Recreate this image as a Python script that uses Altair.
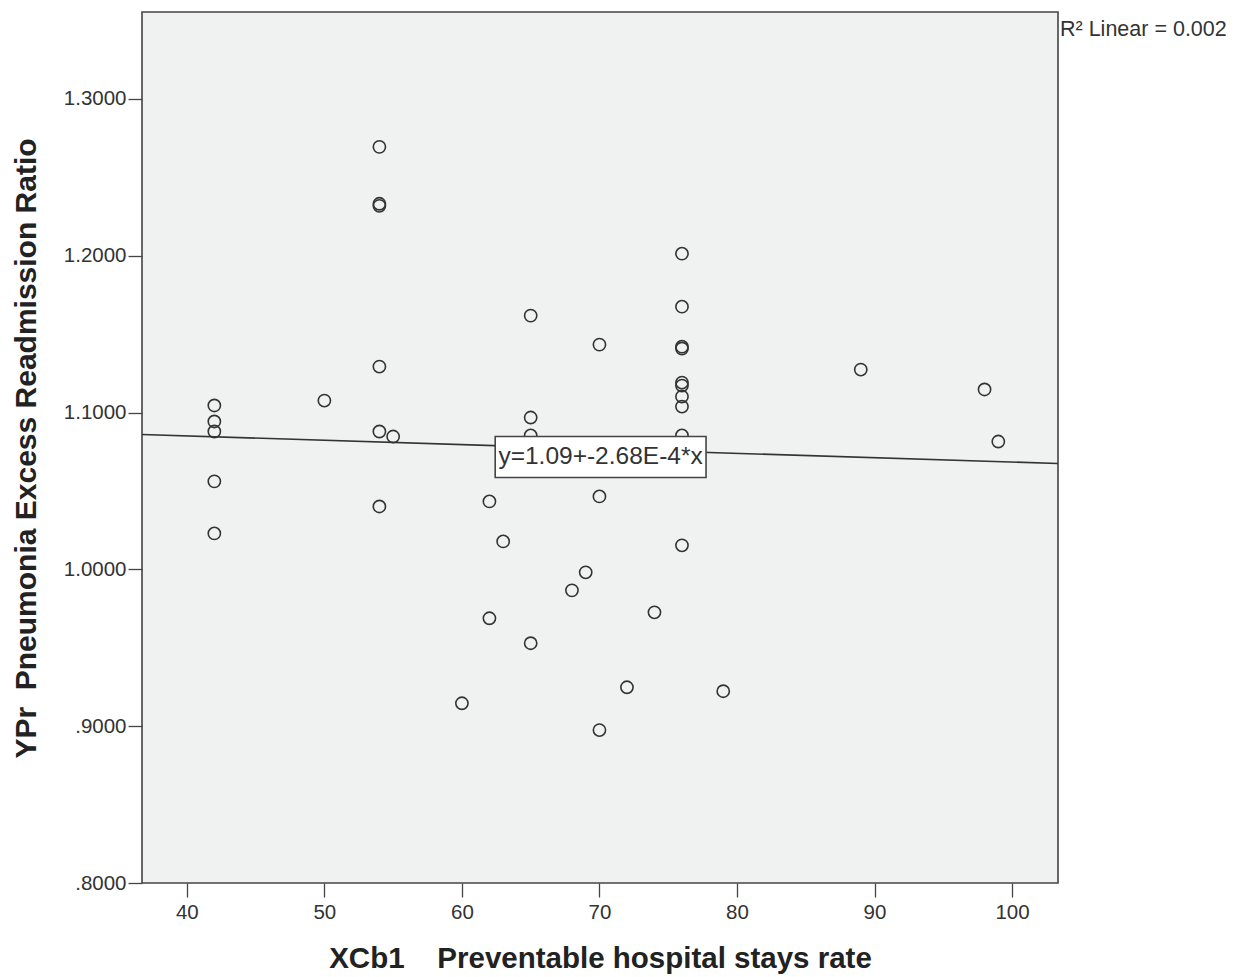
import altair as alt
import pandas as pd

# ---- data ----
x_vals = [42, 42, 42, 42, 42,
          50,
          54, 54, 54, 54, 54, 54,
          55,
          60,
          62, 62,
          63,
          65, 65, 65, 65,
          68,
          69,
          70, 70, 70,
          72,
          74,
          76, 76, 76, 76, 76, 76, 76, 76, 76, 76,
          79,
          89,
          98,
          99]
y_vals = [1.1045, 1.0943, 1.0879, 1.0561, 1.0229,
          1.1076,
          1.2694, 1.2331, 1.2318, 1.1293, 1.0879, 1.0401,
          1.0847,
          0.9146,
          1.0433, 0.9688,
          1.0178,
          1.1618, 1.0968, 1.0854, 0.9529,
          0.9866,
          0.9981,
          1.1433, 1.0465, 0.8975,
          0.9248,
          0.9726,
          1.2013, 1.1675, 1.1420, 1.1408, 1.1191, 1.1172, 1.1102, 1.1038, 1.0854, 1.0153,
          0.9223,
          1.1274,
          1.1147,
          1.0815]

x_domain = [36.74, 103.34]
y_domain = [0.8, 1.3554]
x_ticks = [40, 50, 60, 70, 80, 90, 100]
y_ticks = [0.8, 0.9, 1.0, 1.1, 1.2, 1.3]

# fit line end points
fit_x = [36.74, 103.34]
fit_y = [1.0860, 1.0675]

eq_text = "y=1.09+-2.68E-4*x"
eq_box_x = [62.42, 77.75]
eq_box_y = [1.0847, 1.0586]
eq_pos = [70.08, 1.0716]
r2_text = "R\u00b2 Linear = 0.002"

x_title = "XCb1\u00a0\u00a0\u00a0\u00a0Preventable hospital stays rate"
y_title = "YPr\u00a0\u00a0Pneumonia Excess Readmission Ratio"

W, H = 916, 871
FONT = "Liberation Sans"

pts = pd.DataFrame({"x": x_vals, "y": y_vals})
fit = pd.DataFrame({"x": fit_x, "y": fit_y})
box = pd.DataFrame({"x": [eq_box_x[0]], "x2": [eq_box_x[1]],
                    "y": [eq_box_y[0]], "y2": [eq_box_y[1]]})
lab = pd.DataFrame({"x": [eq_pos[0]], "y": [eq_pos[1]], "t": [eq_text]})

xs = alt.Scale(domain=x_domain, nice=False, zero=False)
ys = alt.Scale(domain=y_domain, nice=False, zero=False)

x_axis = alt.Axis(values=x_ticks, title=x_title, grid=False, domain=False,
                  tickSize=14, tickColor="#444", tickWidth=1.3,
                  labelFont=FONT, labelFontSize=20.5, labelColor="#333",
                  labelPadding=5,
                  titleFont=FONT, titleFontSize=29.5, titleFontWeight="bold",
                  titleColor="#222", titleX=458, titleY=75,
                  titleBaseline="middle", titleAlign="center")
y_axis = alt.Axis(values=y_ticks, title=y_title, grid=False, domain=False,
                  tickSize=14, tickColor="#444", tickWidth=1.3,
                  labelFont=FONT, labelFontSize=20.5, labelColor="#333",
                  labelPadding=2,
                  labelExpr="datum.value < 1 ? substring(format(datum.value, '.4f'), 1) : format(datum.value, '.4f')",
                  titleFont=FONT, titleFontSize=30, titleFontWeight="bold",
                  titleColor="#222", titleX=-116, titleY=436,
                  titleBaseline="middle", titleAlign="center", titleAngle=270)

points = alt.Chart(pts).mark_point(shape="circle", filled=False, size=150,
                                   stroke="#333", strokeWidth=1.6, opacity=1).encode(
    x=alt.X("x:Q", scale=xs, axis=x_axis),
    y=alt.Y("y:Q", scale=ys, axis=y_axis),
)

line = alt.Chart(fit).mark_line(color="#333", strokeWidth=1.6, clip=True).encode(
    x=alt.X("x:Q", scale=xs),
    y=alt.Y("y:Q", scale=ys),
)

rect = alt.Chart(box).mark_rect(fill="white", stroke="#444", strokeWidth=1.6).encode(
    x=alt.X("x:Q", scale=xs), x2="x2:Q",
    y=alt.Y("y:Q", scale=ys), y2="y2:Q",
)

text = alt.Chart(lab).mark_text(font=FONT, fontSize=24.5, color="#333",
                                align="center", baseline="middle").encode(
    x=alt.X("x:Q", scale=xs),
    y=alt.Y("y:Q", scale=ys),
    text="t:N",
)

r2 = alt.Chart(pd.DataFrame({"t": [r2_text]})).mark_text(
    font=FONT, fontSize=21.5, color="#333", align="left", baseline="middle"
).encode(x=alt.value(W + 2), y=alt.value(18), text="t:N")

chart = alt.layer(line, points, rect, text, r2).properties(
    width=W, height=H,
    autosize=alt.AutoSizeParams(type="none"),
    padding={"left": 142, "top": 12, "right": 177, "bottom": 94},
    background="white",
).configure_view(fill="#F0F1F1", stroke="#444", strokeWidth=1.6)

chart.save("out.html", embed_options={"renderer": "svg", "actions": False})
